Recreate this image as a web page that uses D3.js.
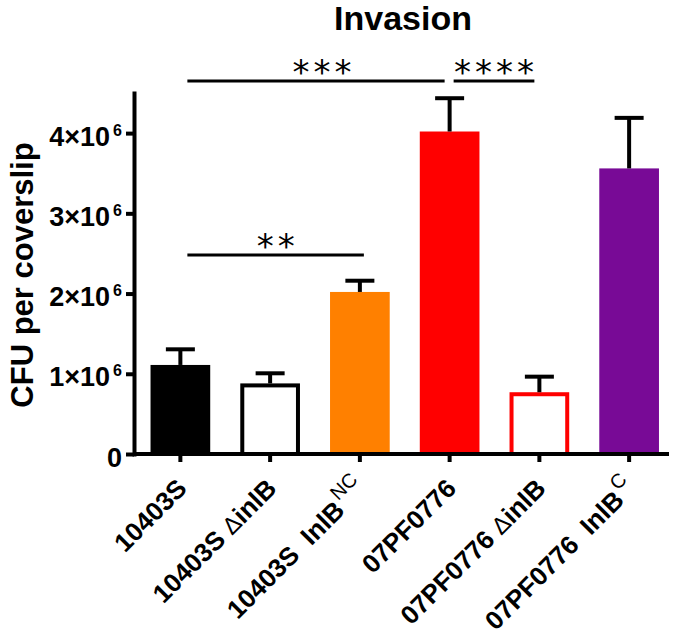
<!DOCTYPE html>
<html>
<head>
<meta charset="utf-8">
<script src="https://cdn.jsdelivr.net/npm/d3@7"></script>
<style>
  html, body { margin: 0; padding: 0; background: #fff; }
  text { font-family: "Liberation Sans", Arial, sans-serif; }
</style>
</head>
<body>
<svg id="chart" width="680" height="639"></svg>
<script>
// ---- data ----
const categories = ["10403S", "10403S ΔinlB", "10403S InlB NC", "07PF0776", "07PF0776 ΔinlB", "07PF0776 InlB C"];
// label pieces: [text, kind] kind: b = bold, d = delta (regular), s = superscript (regular)
const tickLabels = [
  [["10403S", "b"]],
  [["10403S ", "b"], ["Δ", "d"], ["inlB", "b"]],
  [["10403S  InlB", "b"], ["NC", "s"]],
  [["07PF0776", "b"]],
  [["07PF0776 ", "b"], ["Δ", "d"], ["inlB", "b"]],
  [["07PF0776  InlB", "b"], ["C", "s"]]
];
const means = [1.11e6, 0.88e6, 2.02e6, 4.02e6, 0.77e6, 3.56e6];
const errors = [0.195e6, 0.126e6, 0.14e6, 0.415e6, 0.194e6, 0.63e6];
const fills = ["#000000", "#ffffff", "#FF8000", "#FF0000", "#ffffff", "#780A96"];
const strokes = ["#000000", "#000000", "#FF8000", "#FF0000", "#FF0000", "#780A96"];
const yTicks = [0, 1e6, 2e6, 3e6, 4e6];
const yTickMantissa = ["0", "1", "2", "3", "4"];
const comparisons = [
  { from: 0, to: 3, level: 4.65e6, label: "***" },
  { from: 3, to: 4, level: 4.65e6, label: "****" },
  { from: 0, to: 2, level: 2.48e6, label: "**" }
];
const title = "Invasion";
const yLabel = "CFU per coverslip";

// ---- layout ----
const svg = d3.select("#chart");
const x = d3.scaleBand().domain(d3.range(categories.length)).range([135.5, 674]).paddingInner(0.335).paddingOuter(0.1675);
const y = d3.scaleLinear().domain([0, 4.5e6]).range([454, 93]);
const FONT = '"Liberation Sans", Arial, sans-serif';

svg.append("rect").attr("width", 680).attr("height", 639).attr("fill", "#fff");

// bars
const bw = x.bandwidth();
categories.forEach((c, i) => {
  const hollow = fills[i] === "#ffffff";
  const sw = hollow ? 4 : 0;
  svg.append("rect")
    .attr("x", x(i) + sw / 2)
    .attr("y", y(means[i]) + sw / 2)
    .attr("width", bw - sw)
    .attr("height", y(0) - y(means[i]) - sw / 2)
    .attr("fill", fills[i])
    .attr("stroke", hollow ? strokes[i] : "none")
    .attr("stroke-width", sw);
  // error bar (upper only)
  const cx = x(i) + bw / 2;
  svg.append("line")
    .attr("x1", cx).attr("x2", cx)
    .attr("y1", y(means[i])).attr("y2", y(means[i] + errors[i]))
    .attr("stroke", "#000").attr("stroke-width", 4);
  svg.append("line")
    .attr("x1", cx - 14.5).attr("x2", cx + 14.5)
    .attr("y1", y(means[i] + errors[i])).attr("y2", y(means[i] + errors[i]))
    .attr("stroke", "#000").attr("stroke-width", 4);
});

// y axis
const yAxis = d3.axisLeft(y).tickValues(yTicks).tickSize(8).tickSizeOuter(0).tickFormat("");
const gy = svg.append("g").attr("transform", "translate(134,0)").call(yAxis);
gy.select(".domain").attr("stroke", "#000").attr("stroke-width", 4).attr("stroke-linecap", "square");
gy.selectAll(".tick line").attr("stroke", "#000").attr("stroke-width", 4);
gy.selectAll(".tick").each(function(d, i) {
  const t = d3.select(this).append("text")
    .attr("x", -12).attr("y", 12)
    .attr("text-anchor", "end")
    .attr("fill", "#000")
    .style("font-family", FONT)
    .style("font-weight", "bold")
    .style("font-size", "27px");
  if (d === 0) {
    t.text(yTickMantissa[i]);
  } else {
    t.append("tspan").text(yTickMantissa[i] + "×10");
    t.append("tspan").attr("dx", 3).attr("dy", -10).style("font-size", "16px").text("6");
  }
});

// x axis
const xAxis = d3.axisBottom(x).tickSize(8).tickSizeOuter(0).tickFormat("");
const gx = svg.append("g").attr("transform", "translate(0,454)").call(xAxis);
gx.select(".domain").attr("d", "M" + (x.range()[0] - 1.5) + ",0H" + (x.range()[1] - 5))
  .attr("stroke", "#000").attr("stroke-width", 4);
gx.selectAll(".tick line").attr("stroke", "#000").attr("stroke-width", 4).attr("y1", 2);

// x tick labels
tickLabels.forEach((parts, i) => {
  const cx = x(i) + bw / 2;
  const t = svg.append("text")
    .attr("transform", `translate(${cx + 8},490) rotate(-45)`)
    .attr("text-anchor", "end")
    .attr("fill", "#000")
    .style("white-space", "pre")
    .style("font-family", FONT)
    .style("font-size", "26px");
  parts.forEach(([txt, kind]) => {
    const ts = t.append("tspan").text(txt);
    if (kind === "b") ts.style("font-weight", "bold");
    if (kind === "d") ts.style("font-weight", "normal").style("font-size", "24px");
    if (kind === "s") ts.style("font-weight", "normal").style("font-size", "20px").attr("dy", -13).attr("dx", 2);
  });
});

// significance brackets
comparisons.forEach(cmp => {
  const x1 = x(cmp.from) + bw / 2 + (cmp.from === 0 ? 7 : 4);
  const x2 = x(cmp.to) + bw / 2 + (cmp.to === 2 ? 4 : -5);
  const ly = y(cmp.level);
  svg.append("line")
    .attr("x1", x1).attr("x2", x2).attr("y1", ly).attr("y2", ly)
    .attr("stroke", "#000").attr("stroke-width", 3);
  const ls = 4;
  svg.append("text")
    .attr("x", (x1 + x2) / 2 + ls / 2 + (cmp.label === "***" ? 6 : 0))
    .attr("y", ly + 3)
    .attr("text-anchor", "middle")
    .attr("fill", "#000")
    .style("font-family", '"DejaVu Sans", sans-serif')
    .style("font-size", "34px")
    .style("letter-spacing", ls + "px")
    .text(cmp.label);
});

// title
svg.append("text")
  .attr("x", 403).attr("y", 30)
  .attr("text-anchor", "middle")
  .attr("fill", "#000")
  .style("font-family", FONT)
  .style("font-weight", "bold")
  .style("font-size", "34px")
  .text(title);

// y label
svg.append("text")
  .attr("transform", "translate(33,275) rotate(-90)")
  .attr("text-anchor", "middle")
  .attr("fill", "#000")
  .style("font-family", FONT)
  .style("font-weight", "bold")
  .style("font-size", "31px")
  .text(yLabel);
</script>
</body>
</html>
